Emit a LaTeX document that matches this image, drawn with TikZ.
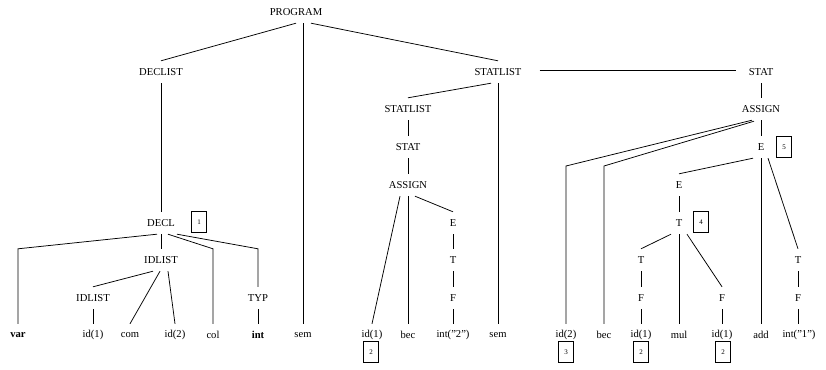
\documentclass[tikz,border=0pt]{standalone}
\usepackage{fontspec}
\setmainfont{Liberation Serif}
\begin{document}
\begin{tikzpicture}[x=1pt,y=-1pt,
  nt/.style={inner xsep=0pt,inner ysep=0pt,minimum height=22pt,font=\fontsize{10.6}{12}\selectfont},
  bx/.style={draw,line width=0.6pt,inner sep=0pt,minimum width=15pt,minimum height=21pt,font=\fontsize{7}{8}\selectfont},
  ed/.style={line width=0.75pt}]
\useasboundingbox (0,0) rectangle (826,369);
% interior nodes
\node[nt] (prog) at (296,12) {PROGRAM};
\node[nt] (declist) at (161,72) {DECLIST};
\node[nt] (statlistA) at (498,72) {STATLIST};
\node[nt] (statR) at (761,72) {STAT};
\node[nt] (statlistB) at (408,109) {STATLIST};
\node[nt] (assignR) at (761,109) {ASSIGN};
\node[nt] (statL) at (408,147) {STAT};
\node[nt] (eR1) at (761,147) {E};
\node[nt] (assignL) at (408,185) {ASSIGN};
\node[nt] (eR2) at (679,185) {E};
\node[nt] (decl) at (161,223) {DECL};
\node[nt] (eL1) at (453,223) {E};
\node[nt] (tR1) at (679,223) {T};
\node[nt] (idlA) at (161,260) {IDLIST};
\node[nt] (tL) at (453,260) {T};
\node[nt] (tR2) at (641,260) {T};
\node[nt] (tR3) at (798,260) {T};
\node[nt] (idlB) at (93,298) {IDLIST};
\node[nt] (typ) at (258,298) {TYP};
\node[nt] (fL) at (453,298) {F};
\node[nt] (fR1) at (641,298) {F};
\node[nt] (fR2) at (722,298) {F};
\node[nt] (fR3) at (798,298) {F};
% leaves
\node[nt] (var) at (18,335) {\textbf{var}};
\node[nt] (idA) at (93,335) {id(1)};
\node[nt] (com) at (130,335) {com};
\node[nt] (idB) at (175,335) {id(2)};
\node[nt] (col) at (213,335) {col};
\node[nt] (intk) at (258,335) {\textbf{int}};
\node[nt] (semA) at (303,335) {sem};
\node[nt] (idC) at (372,335) {id(1)};
\node[nt] (becA) at (408,335) {bec};
\node[nt] (intA) at (453,335) {int(''2'')};
\node[nt] (semB) at (498,335) {sem};
\node[nt] (idD) at (566,335) {id(2)};
\node[nt] (becB) at (604,335) {bec};
\node[nt] (idE) at (641,335) {id(1)};
\node[nt] (mul) at (679,335) {mul};
\node[nt] (idF) at (722,335) {id(1)};
\node[nt] (add) at (761,335) {add};
\node[nt] (intB) at (799,335) {int(''1'')};
% boxes
\node[bx] (b1) at (199,222) {1};
\node[bx] (b5) at (784,147) {5};
\node[bx] (b4) at (701,222) {4};
\node[bx] (b2a) at (371,352) {2};
\node[bx] (b3) at (566,352) {3};
\node[bx] (b2b) at (641,352) {2};
\node[bx] (b2c) at (723,352) {2};
\coordinate (elbowA) at (0,166);
% edges
\draw[ed] (prog.south) -- (declist.north);
\draw[ed] ([xshift=7pt]prog.south) -- (semA.north);
\draw[ed] ([xshift=15pt]prog.south) -- (statlistA.north);
\draw[ed] (declist.south) -- (decl.north);
\draw[ed] ([xshift=-4pt]decl.south) -- (var.north |- idlA.north) -- (var.north);
\draw[ed] (decl.south) -- (idlA.north);
\draw[ed] ([xshift=7pt]decl.south) -- (col.north |- idlA.north) -- (col.north);
\draw[ed] ([xshift=16pt]decl.south) -- (typ.north |- idlA.north) -- (typ.north);
\draw[ed] ([xshift=-8pt]idlA.south) -- (idlB.north);
\draw[ed] ([xshift=-1pt]idlA.south) -- (com.north);
\draw[ed] ([xshift=7pt]idlA.south) -- (idB.north);
\draw[ed] (idlB.south) -- (idA.north);
\draw[ed] (typ.south) -- (intk.north);
\draw[ed] ([xshift=-7pt]statlistA.south) -- (statlistB.north);
\draw[ed] (statlistA.south) -- (semB.north);
\draw[ed] ([xshift=18pt,yshift=2pt]statlistA.east) -- ([xshift=-13pt,yshift=2pt]statR.west);
\draw[ed] (statlistB.south) -- (statL.north);
\draw[ed] (statL.south) -- (assignL.north);
\draw[ed] ([xshift=-8pt]assignL.south) -- (idC.north);
\draw[ed] (assignL.south) -- (becA.north);
\draw[ed] ([xshift=7pt]assignL.south) -- (eL1.north);
\draw[ed] (eL1.south) -- (tL.north);
\draw[ed] (tL.south) -- (fL.north);
\draw[ed] (fL.south) -- (intA.north);
\draw[ed] (statR.south) -- (assignR.north);
\draw[ed] ([xshift=-9pt]assignR.south) -- (idD.north |- elbowA) -- (idD.north);
\draw[ed] ([xshift=-7pt,yshift=-1pt]assignR.south) -- (becB.north |- elbowA) -- (becB.north);
\draw[ed] (assignR.south) -- (eR1.north);
\draw[ed] ([xshift=-8pt]eR1.south) -- (eR2.north);
\draw[ed] (eR1.south) -- (add.north);
\draw[ed] ([xshift=7pt]eR1.south) -- (tR3.north);
\draw[ed] (eR2.south) -- (tR1.north);
\draw[ed] ([xshift=-8pt]tR1.south) -- (tR2.north);
\draw[ed] (tR1.south) -- (mul.north);
\draw[ed] ([xshift=8pt]tR1.south) -- (fR2.north);
\draw[ed] (tR2.south) -- (fR1.north);
\draw[ed] (fR1.south) -- (idE.north);
\draw[ed] (fR2.south) -- (idF.north);
\draw[ed] (tR3.south) -- (fR3.north);
\draw[ed] (fR3.south) -- ([xshift=-1pt]intB.north);
\end{tikzpicture}
\end{document}
